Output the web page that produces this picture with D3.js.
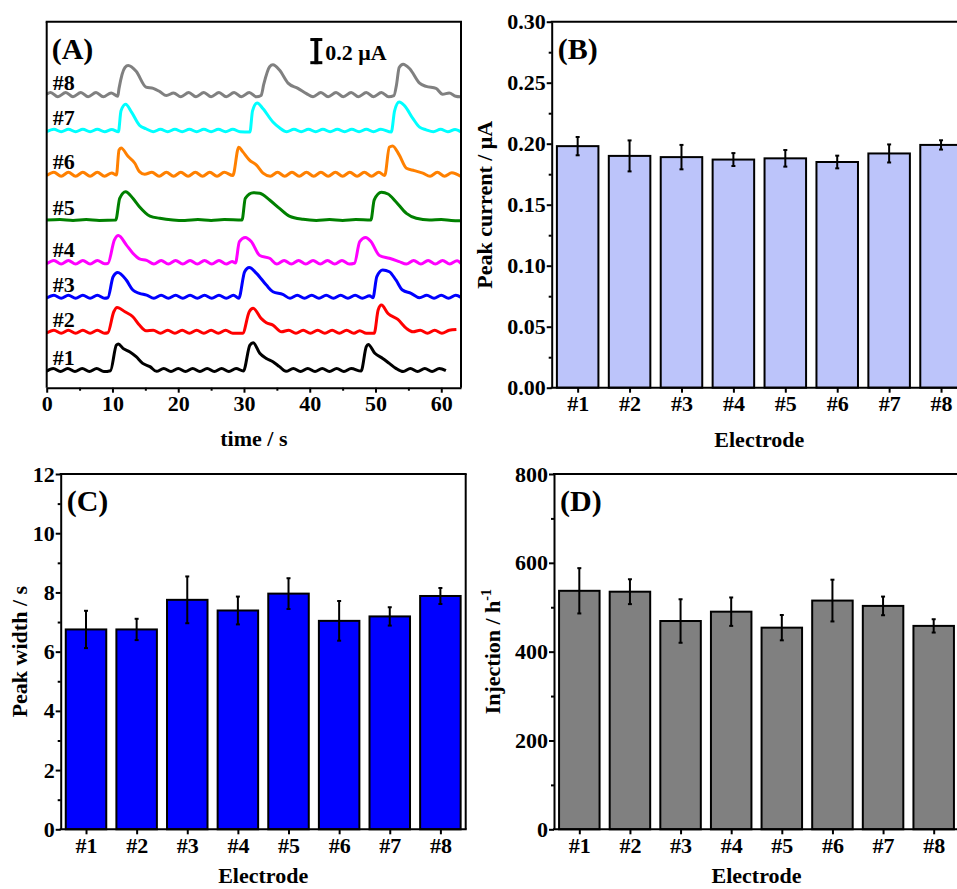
<!DOCTYPE html>
<html>
<head>
<meta charset="utf-8">
<script src="https://cdn.jsdelivr.net/npm/d3@7"></script>
<style>
  body { margin: 0; overflow: hidden; background: #fff; }
  svg { display: block; }
  text { font-family: "Liberation Serif", "Times New Roman", serif; font-weight: bold; }
</style>
</head>
<body>
<script>
let width = 957, height = 889;
const FONT = '"Liberation Serif", "Times New Roman", serif';

// ---------- data ----------
const electrodes = ["#1", "#2", "#3", "#4", "#5", "#6", "#7", "#8"];

const peakCurrent    = [0.198, 0.190, 0.189, 0.187, 0.188, 0.185, 0.192, 0.199];
const peakCurrentErr = [0.0075, 0.0127, 0.010, 0.0053, 0.0068, 0.0052, 0.0074, 0.0038];

const peakWidth    = [6.75, 6.75, 7.75, 7.39, 7.96, 7.04, 7.19, 7.88];
const peakWidthErr = [0.63, 0.36, 0.79, 0.47, 0.52, 0.67, 0.31, 0.27];

const injection    = [537, 535, 469, 490, 454, 515, 503, 458];
const injectionErr = [51, 28, 49, 32, 28.5, 47, 21, 15];

const timeTicks = [0, 10, 20, 30, 40, 50, 60];
const timeMinor = [5, 15, 25, 35, 45, 55];

// trace colours and vertical offsets (µA), #1 .. #8
const traceColors  = ["#000000", "#ff0000", "#0000ff", "#ff00ff", "#008000", "#ff8000", "#00ffff", "#808080"];
const traceOffsets = [0.135, 0.428, 0.696, 0.960, 1.283, 1.633, 1.968, 2.240];

// [time s, current above baseline µA]
const trace1 = [[0,-0.008],[1.0,0.012],[2.1,-0.012],[3.2,0.012],[4.3,-0.012],[5.4,0.012],[6.5,-0.012],[7.6,0.012],[8.7,-0.012],[9.7,-0.005],[10.6,0.191],[10.9,0.199],[11.6,0.166],[12.6,0.14],[13.6,0.102],[14.6,0.051],[15.7,0.026],[16.7,-0.01],[17.8,0.012],[18.9,-0.012],[20.0,0.012],[21.1,-0.012],[22.2,0.012],[23.3,-0.012],[24.4,0.012],[25.5,-0.012],[26.6,0.012],[27.7,-0.012],[28.8,0.012],[29.9,-0.008],[30.9,0.191],[31.4,0.209],[32.4,0.128],[33.4,0.089],[34.4,0.064],[35.4,0.026],[36.4,-0.01],[37.5,0.012],[38.6,-0.012],[39.7,0.012],[40.8,-0.012],[41.9,0.012],[43.0,-0.012],[44.1,0.012],[45.2,-0.012],[46.3,0.012],[47.8,-0.008],[48.6,0.179],[48.9,0.196],[49.9,0.128],[51.1,0.089],[52.1,0.051],[53.1,0.013],[54.2,-0.012],[55.3,0.012],[56.4,-0.012],[57.5,0.012],[58.6,-0.012],[59.7,0.012],[60.7,-0.005]];
const trace2 = [[0,-0.01],[1.1,0.012],[2.2,-0.012],[3.3,0.012],[4.4,-0.012],[5.5,0.012],[6.6,-0.012],[7.7,0.012],[8.8,-0.012],[9.3,-0.008],[10.2,0.153],[10.7,0.186],[11.9,0.153],[13.1,0.115],[14.1,0.051],[15.1,0.008],[16.2,0.012],[17.3,-0.012],[18.4,0.012],[19.5,-0.012],[20.6,0.012],[21.7,-0.012],[22.8,0.012],[23.9,-0.012],[25.0,0.012],[26.1,-0.012],[27.2,0.012],[28.3,-0.012],[29.8,-0.012],[30.8,0.153],[31.4,0.179],[32.6,0.102],[33.4,0.069],[34.4,0.051],[35.7,0.0],[36.8,0.012],[37.9,-0.012],[39.0,0.012],[40.1,-0.012],[41.2,0.012],[42.3,-0.012],[43.4,0.012],[44.5,-0.012],[45.6,0.012],[46.7,-0.012],[47.6,0.008],[48.6,-0.012],[49.8,-0.012],[50.4,0.166],[50.9,0.204],[51.9,0.14],[53.4,0.094],[54.7,0.026],[55.7,0.0],[56.8,0.012],[57.9,-0.012],[59.0,0.012],[60.1,-0.012],[61.2,0.012],[62.3,0.018]];
const trace3 = [[0,-0.01],[1.1,0.012],[2.2,-0.012],[3.3,0.012],[4.4,-0.012],[5.5,0.012],[6.6,-0.012],[7.7,0.012],[8.8,-0.012],[9.3,-0.008],[10.1,0.153],[10.8,0.186],[12.1,0.128],[13.1,0.051],[14.1,0.026],[15.2,0.012],[16.3,-0.012],[17.4,0.012],[18.5,-0.012],[19.6,0.012],[20.7,-0.012],[21.8,0.012],[22.9,-0.012],[24.0,0.012],[25.1,-0.012],[26.2,0.012],[27.3,-0.012],[28.4,0.012],[29.2,-0.012],[30.1,0.191],[30.8,0.224],[31.9,0.179],[33.4,0.089],[34.4,0.038],[35.9,0.018],[37.0,-0.012],[38.1,0.012],[39.2,-0.012],[40.3,0.012],[41.4,-0.012],[42.5,0.012],[43.6,-0.012],[44.7,0.012],[45.8,-0.012],[46.9,0.012],[48.0,-0.012],[49.1,0.008],[49.6,-0.008],[50.2,0.153],[51.1,0.204],[52.1,0.191],[53.1,0.128],[54.1,0.051],[55.4,0.026],[56.7,-0.008],[57.8,0.012],[58.9,-0.012],[60.0,0.012],[61.1,-0.012],[62.2,0.012],[63,-0.005]];
const trace4 = [[0,-0.012],[1.1,0.014],[2.2,-0.014],[3.3,0.014],[4.4,-0.014],[5.5,0.014],[6.6,-0.014],[7.7,0.014],[8.8,-0.012],[9.3,-0.01],[10.3,0.171],[10.9,0.204],[12.1,0.133],[13.1,0.069],[14.1,0.026],[15.2,0.014],[16.3,-0.014],[17.4,0.014],[18.5,-0.014],[19.6,0.014],[20.7,-0.014],[21.8,0.014],[22.9,-0.014],[24.0,0.014],[25.1,-0.014],[26.2,0.014],[27.3,-0.014],[28.2,0.006],[28.7,-0.006],[29.3,0.158],[30.2,0.189],[31.1,0.158],[32.4,0.051],[33.9,0.03],[35.0,-0.014],[36.1,0.014],[37.2,-0.014],[38.3,0.014],[39.4,-0.014],[40.5,0.014],[41.6,-0.014],[42.7,0.014],[43.8,-0.014],[44.9,0.014],[46.0,-0.014],[46.8,-0.008],[47.6,0.158],[48.5,0.189],[49.3,0.158],[50.6,0.051],[52.1,0.03],[53.6,0.005],[54.7,-0.014],[55.8,0.014],[56.9,-0.014],[58.0,0.014],[59.1,-0.014],[60.2,0.014],[61.3,-0.014],[62.4,0.012],[63,-0.01]];
const trace5 = [[0,0.0],[2,0.004],[4,-0.003],[6,0.003],[8,-0.003],[10.5,0.0],[11.1,0.166],[12.0,0.217],[13.1,0.166],[14.1,0.102],[15.7,0.03],[17.2,0.013],[19.2,0.0],[21,-0.004],[23,0.003],[25,-0.003],[27,0.003],[29.7,0.0],[30.2,0.166],[31.4,0.209],[32.4,0.204],[33.9,0.153],[35.4,0.089],[36.9,0.03],[39.0,0.005],[41,-0.003],[43,0.003],[45,-0.003],[47,0.003],[49.3,0.0],[49.8,0.153],[50.9,0.212],[51.9,0.199],[53.1,0.14],[54.7,0.051],[56.2,0.013],[58.2,0.0],[60,0.003],[61.5,-0.003],[63,-0.005]];
const trace6 = [[0,-0.01],[1.1,0.015],[2.2,-0.015],[3.3,0.015],[4.4,-0.015],[5.5,0.015],[6.6,-0.015],[7.7,0.015],[8.8,-0.015],[9.9,0.01],[10.6,-0.005],[11.0,0.186],[11.3,0.2],[12.4,0.135],[13.4,0.084],[14.1,0.02],[14.9,0.0],[16.0,0.015],[17.1,-0.015],[18.2,0.015],[19.3,-0.015],[20.4,0.015],[21.5,-0.015],[22.6,0.015],[23.7,-0.015],[24.8,0.015],[25.9,-0.015],[27.0,0.015],[28.3,-0.01],[29.2,0.207],[29.8,0.173],[30.8,0.11],[31.9,0.07],[32.9,0.008],[34.0,-0.015],[35.1,0.015],[36.2,-0.015],[37.3,0.015],[38.4,-0.015],[39.5,0.015],[40.6,-0.015],[41.7,0.015],[42.8,-0.015],[43.9,0.015],[45.0,-0.015],[46.1,0.015],[47.2,-0.015],[48.3,0.015],[49.4,-0.015],[50.5,0.015],[51.4,-0.01],[52.1,0.207],[52.6,0.217],[53.6,0.148],[54.7,0.046],[55.9,0.028],[57.2,0.008],[58.3,-0.015],[59.4,0.015],[60.5,-0.015],[61.6,0.012],[63,-0.018]];
const trace7 = [[0,-0.01],[1.1,0.01],[2.2,-0.01],[3.3,0.01],[4.4,-0.01],[5.5,0.01],[6.6,-0.01],[7.7,0.01],[8.8,-0.01],[9.9,0.008],[10.9,-0.01],[11.3,0.15],[12.0,0.2],[12.9,0.14],[14.1,0.04],[15.1,0.013],[16.2,-0.01],[17.3,0.01],[18.4,-0.01],[19.5,0.01],[20.6,-0.01],[21.7,0.01],[22.8,-0.01],[23.9,0.01],[25.0,-0.01],[26.1,0.01],[27.2,-0.01],[28.3,0.01],[29.4,-0.01],[30.9,-0.012],[31.3,0.15],[32.0,0.21],[32.9,0.166],[34.4,0.064],[35.4,0.02],[36.5,-0.01],[37.6,0.01],[38.7,-0.01],[39.8,0.01],[40.9,-0.01],[42.0,0.01],[43.1,-0.01],[44.2,0.01],[45.3,-0.01],[46.4,0.01],[47.5,-0.01],[48.6,0.01],[49.7,-0.01],[50.8,0.01],[52.4,-0.012],[52.9,0.15],[53.6,0.217],[54.4,0.19],[55.7,0.09],[56.7,0.025],[57.7,0.005],[58.8,-0.01],[59.9,0.01],[61.0,-0.01],[62.1,0.008],[63,-0.012]];
const trace8 = [[0,0.005],[0.6,0.018],[1.7,-0.015],[2.9,0.018],[4.0,-0.015],[5.2,0.018],[6.3,-0.015],[7.5,0.018],[8.6,-0.015],[9.8,0.015],[10.8,-0.01],[11.0,0.05],[11.9,0.21],[12.4,0.225],[13.6,0.18],[15.1,0.06],[16.2,0.05],[17.2,0.025],[18.2,-0.005],[19.3,0.015],[20.4,-0.015],[21.6,0.018],[22.7,-0.015],[23.9,0.018],[25.0,-0.015],[26.2,0.018],[27.3,-0.015],[28.5,0.018],[29.6,-0.015],[30.8,0.018],[31.9,-0.015],[32.6,-0.005],[33.0,0.08],[33.9,0.215],[34.4,0.23],[35.4,0.19],[36.7,0.09],[38.2,0.05],[39.5,0.01],[40.5,-0.015],[41.7,0.018],[42.8,-0.015],[44.0,0.018],[45.1,-0.015],[46.3,0.018],[47.4,-0.015],[48.6,0.018],[49.7,-0.015],[50.9,0.018],[52.0,-0.015],[52.8,-0.005],[53.2,0.08],[53.6,0.21],[54.2,0.235],[55.2,0.2],[56.7,0.09],[57.7,0.065],[59.2,0.05],[60.2,0.005],[61.2,0.015],[62.2,-0.01],[62.9,-0.015]];
const traces = [trace1, trace2, trace3, trace4, trace5, trace6, trace7, trace8];

// ---------- svg ----------
let svg = d3.select("body").append("svg")
    .attr("width", width)
    .attr("height", height);

function styleAxis(g) {
    g.attr("font-family", FONT)
     .attr("font-size", 22)
     .attr("font-weight", "bold");
    g.selectAll("line").attr("stroke", "#000").attr("stroke-width", 2);
    g.selectAll("path").attr("stroke", "#000").attr("stroke-width", 2);
    g.selectAll("text").attr("fill", "#000");
}

function frameLine(x1, y1, x2, y2) {
    svg.append("line")
        .attr("x1", x1).attr("y1", y1).attr("x2", x2).attr("y2", y2)
        .attr("stroke", "#000").attr("stroke-width", 2);
}

/*******************************************
 ****************** (A) *******************
 *******************************************/
var boxA = {left: 46.7, top: 21.7, right: 461, bottom: 387.7};

const xA = d3.scaleLinear().domain([0, 63]).range([boxA.left, boxA.right]);
const yA = d3.scaleLinear().domain([0, 2.8]).range([boxA.bottom, boxA.top]);

let lineA = d3.line()
    .x(d => xA(d[0]))
    .curve(d3.curveMonotoneX);

traces.forEach((tr, i) => {
    svg.append("path")
        .datum(tr)
        .attr("d", lineA.y(d => yA(traceOffsets[i] + d[1])))
        .attr("fill", "none")
        .attr("stroke", traceColors[i])
        .attr("stroke-width", 3)
        .attr("stroke-linejoin", "round");
});

// trace labels
svg.append("g")
    .selectAll("text")
    .data(electrodes)
    .enter()
    .append("text")
        .attr("x", boxA.left + 6)
        .attr("y", (d, i) => yA(traceOffsets[i]) - 5)
        .attr("font-size", 22)
        .text(d => d);

// x axis
svg.append("g")
    .attr("transform", "translate(0," + boxA.bottom + ")")
    .call(d3.axisBottom(xA).tickValues(timeMinor).tickSize(3).tickFormat(""))
    .call(g => g.select(".domain").remove())
    .call(styleAxis);
svg.append("g")
    .attr("transform", "translate(0," + boxA.bottom + ")")
    .call(d3.axisBottom(xA).tickValues(timeTicks).tickSize(5).tickSizeOuter(0).tickPadding(3))
    .call(styleAxis);

frameLine(boxA.left, boxA.top, boxA.left, boxA.bottom);
frameLine(boxA.left - 1, boxA.top, boxA.right + 1, boxA.top);
frameLine(boxA.right, boxA.top, boxA.right, boxA.bottom);

svg.append("text")
    .attr("x", (boxA.left + boxA.right) / 2)
    .attr("y", boxA.bottom + 58)
    .attr("text-anchor", "middle")
    .attr("font-size", 22)
    .text("time / s");

svg.append("text")
    .attr("x", boxA.left + 5)
    .attr("y", boxA.top + 37)
    .attr("font-size", 30)
    .text("(A)");

// 0.2 µA scale bar
var sbX = xA(41), sbTop = yA(2.675), sbBot = yA(2.475);
svg.append("line").attr("x1", sbX).attr("x2", sbX).attr("y1", sbTop).attr("y2", sbBot)
    .attr("stroke", "#000").attr("stroke-width", 4);
[sbTop + 1.5, sbBot - 1.5].forEach(y => {
    svg.append("line").attr("x1", sbX - 6).attr("x2", sbX + 6).attr("y1", y).attr("y2", y)
        .attr("stroke", "#000").attr("stroke-width", 3);
});
svg.append("text")
    .attr("x", sbX + 9)
    .attr("y", sbBot - 4)
    .attr("font-size", 22)
    .text("0.2 μA");

/*******************************************
 *************** bar panels ***************
 *******************************************/
function barPanel(opt) {
    let b = opt.box;
    const x = d3.scalePoint().domain(electrodes).range([b.left, b.right]).padding(0.5);
    const y = d3.scaleLinear().domain(opt.yDomain).range([b.bottom, b.top]);
    const bw = x.step() * 0.8;

    // bars
    svg.append("g")
        .selectAll("rect")
        .data(opt.values)
        .enter()
        .append("rect")
            .attr("x", (d, i) => x(electrodes[i]) - bw / 2)
            .attr("y", d => y(d))
            .attr("width", bw)
            .attr("height", d => y(0) - y(d))
            .attr("fill", opt.color)
            .attr("stroke", "#000")
            .attr("stroke-width", 2);

    // error bars
    let eg = svg.append("g").attr("stroke", "#000");
    opt.values.forEach((v, i) => {
        let cx = x(electrodes[i]), e = opt.errors[i];
        eg.append("line").attr("x1", cx).attr("x2", cx)
            .attr("y1", y(v + e)).attr("y2", y(v - e)).attr("stroke-width", 2);
        [v + e, v - e].forEach(val => {
            eg.append("line").attr("x1", cx - 2).attr("x2", cx + 2)
                .attr("y1", y(val)).attr("y2", y(val)).attr("stroke-width", 2);
        });
    });

    // y axis, minor then major
    svg.append("g")
        .attr("transform", "translate(" + b.left + ",0)")
        .call(d3.axisLeft(y).tickValues(opt.yMinor).tickSize(3).tickFormat(""))
        .call(g => g.select(".domain").remove())
        .call(styleAxis);
    svg.append("g")
        .attr("transform", "translate(" + b.left + ",0)")
        .call(d3.axisLeft(y).tickValues(opt.yTicks).tickSize(5).tickSizeOuter(0).tickPadding(1).tickFormat(opt.yFormat))
        .call(styleAxis);

    // x axis
    svg.append("g")
        .attr("transform", "translate(0," + b.bottom + ")")
        .call(d3.axisBottom(x).tickSize(5).tickSizeOuter(0).tickPadding(3))
        .call(styleAxis)
        .call(g => g.select(".domain").attr("d", "M" + (b.left - 1) + ",0H" + (b.right + 1)));

    frameLine(b.left - 1, b.top, b.right + 1, b.top);
    frameLine(b.right, b.top, b.right, b.bottom);

    svg.append("text")
        .attr("x", (b.left + b.right) / 2)
        .attr("y", b.bottom + opt.xLabelOffset)
        .attr("text-anchor", "middle")
        .attr("font-size", 22)
        .text("Electrode");

    let yl = svg.append("text")
        .attr("transform", "translate(" + (b.left - opt.yLabelOffset) + "," + ((b.top + b.bottom) / 2) + ") rotate(-90)")
        .attr("text-anchor", "middle")
        .attr("font-size", 22)
        .text(opt.yLabel);
    if (opt.ySup) {
        yl.append("tspan").attr("font-size", 14).attr("dy", -9).text(opt.ySup);
    }

    svg.append("text")
        .attr("x", b.left + 6)
        .attr("y", b.top + 37)
        .attr("font-size", 30)
        .text(opt.label);
}

// (B)
barPanel({
    box: {left: 551.7, top: 21.7, right: 967, bottom: 387.7},
    values: peakCurrent, errors: peakCurrentErr, color: "#bcc4fa",
    yDomain: [0, 0.3],
    yTicks: [0, 0.05, 0.10, 0.15, 0.20, 0.25, 0.30],
    yMinor: [0.025, 0.075, 0.125, 0.175, 0.225, 0.275],
    yFormat: d3.format(".2f"),
    yLabel: "Peak current / μA", yLabelOffset: 60, xLabelOffset: 59,
    label: "(B)"
});

// (C)
barPanel({
    box: {left: 60.7, top: 474, right: 465.7, bottom: 829.3},
    values: peakWidth, errors: peakWidthErr, color: "#0000ff",
    yDomain: [0, 12],
    yTicks: [0, 2, 4, 6, 8, 10, 12],
    yMinor: [1, 3, 5, 7, 9, 11],
    yFormat: d3.format("d"),
    yLabel: "Peak width / s", yLabelOffset: 34, xLabelOffset: 54,
    label: "(C)"
});

// (D)
barPanel({
    box: {left: 554, top: 474, right: 959, bottom: 829.3},
    values: injection, errors: injectionErr, color: "#808080",
    yDomain: [0, 800],
    yTicks: [0, 200, 400, 600, 800],
    yMinor: [100, 300, 500, 700],
    yFormat: d3.format("d"),
    yLabel: "Injection / h", ySup: "-1", yLabelOffset: 54, xLabelOffset: 54,
    label: "(D)"
});
</script>
</body>
</html>
